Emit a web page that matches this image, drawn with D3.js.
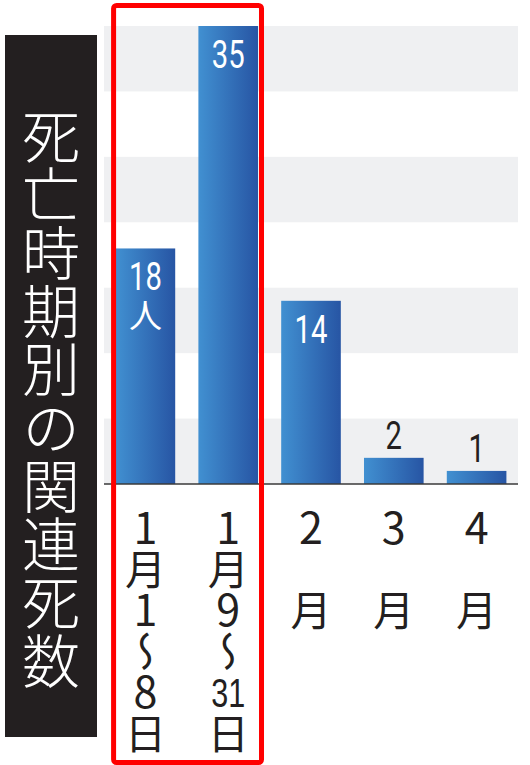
<!DOCTYPE html>
<html>
<head>
<meta charset="utf-8">
<script src="https://cdn.jsdelivr.net/npm/d3@7"></script>
<style>
  html, body { margin: 0; padding: 0; background: #fff; }
</style>
</head>
<body>
<div id="chart"></div>
<script>
// data
const categories = ["1月1〜8日", "1月9〜31日", "2月", "3月", "4月"];
const deaths = [18, 35, 14, 2, 1];
// vertical tick labels, one entry per row ("" = empty row)
const tickLabels = [
    ["1", "月", "1", "〜", "8", "日"],
    ["1", "月", "9", "〜", "31", "日"],
    ["2", "", "月"],
    ["3", "", "月"],
    ["4", "", "月"]
];
const valueUnits = ["人", "", "", "", ""];
const titleText = "死亡時期別の関連死数";
const bandTicks = [0, 5, 10, 15, 20, 25, 30, 35];
const highlighted = [0, 1]; // the two January bars framed in red

const width = 530, height = 765;
const cjk = "'Noto Sans CJK JP', 'Noto Sans', sans-serif";

const svg = d3.select("#chart")
    .append("svg")
    .attr("width", width)
    .attr("height", height);

const x = d3.scaleBand()
    .domain(categories)
    .range([104, 518])
    .paddingInner(0.28)
    .paddingOuter(0.14);

const y = d3.scaleLinear()
    .domain([0, 35])
    .range([484, 26]);

// bar gradient, light left edge to dark right edge
const grad = svg.append("defs").append("linearGradient")
    .attr("id", "barGrad")
    .attr("x1", "0%").attr("x2", "100%")
    .attr("y1", "0%").attr("y2", "0%");
grad.append("stop").attr("offset", "0%").attr("stop-color", "#4190d1");
grad.append("stop").attr("offset", "100%").attr("stop-color", "#2755a4");

// alternating grey bands every 5 people
svg.append("g")
    .selectAll("rect")
    .data(d3.pairs(bandTicks).filter((d, i) => i % 2 === 0))
    .enter().append("rect")
    .attr("x", 104)
    .attr("width", 518 - 104)
    .attr("y", d => y(d[1]))
    .attr("height", d => y(d[0]) - y(d[1]))
    .attr("fill", "#eff0f2");

// title box with vertical title
svg.append("rect")
    .attr("x", 5).attr("y", 35)
    .attr("width", 92).attr("height", 702)
    .attr("fill", "#231f20");

svg.append("text")
    .attr("x", 51)
    .attr("y", 107)
    .attr("fill", "#fff")
    .style("writing-mode", "vertical-rl")
    .style("text-orientation", "upright")
    .style("letter-spacing", "0.3px")
    .style("font-family", cjk)
    .style("font-weight", 300)
    .style("font-size", "58px")
    .text(titleText);

// bars
svg.append("g")
    .selectAll("rect")
    .data(deaths)
    .enter().append("rect")
    .attr("x", (d, i) => x(categories[i]))
    .attr("width", x.bandwidth())
    .attr("y", d => y(d))
    .attr("height", d => y(0) - y(d))
    .attr("fill", "url(#barGrad)");

// baseline
svg.append("line")
    .attr("x1", 104).attr("x2", 518)
    .attr("y1", y(0)).attr("y2", y(0))
    .attr("stroke", "#3a3a3a")
    .attr("stroke-width", 1.6);

// value labels: inside (white) for tall bars, above (dark) for short ones
const labels = svg.append("g");
deaths.forEach((v, i) => {
    const cx = x(categories[i]) + x.bandwidth() / 2;
    const inside = v >= 10;
    const by = inside ? y(v) + 42 : y(v) - 9;
    labels.append("text")
        .attr("transform", `translate(${cx},${by}) scale(0.75,1)`)
        .attr("text-anchor", "middle")
        .attr("fill", inside ? "#fff" : "#231f20")
        .style("font-family", "Roboto, 'Liberation Sans', sans-serif")
        .style("font-size", "39px")
        .text(v);
    if (valueUnits[i]) {
        labels.append("text")
            .attr("x", cx)
            .attr("y", by + 9)
            .attr("fill", "#fff")
            .style("writing-mode", "vertical-rl")
            .style("text-orientation", "upright")
            .style("font-family", cjk)
            .style("font-size", "33px")
            .text(valueUnits[i]);
    }
});

// category labels in vertical writing, one glyph per row
const rowTop = 508, rowPitch = 41;
const ticks = svg.append("g");
tickLabels.forEach((rows, i) => {
    const cx = x(categories[i]) + x.bandwidth() / 2;
    let col = null;
    rows.forEach((ch, r) => {
        const top = rowTop + r * rowPitch;
        if (!ch) return;
        if (ch.length > 1) {
            // two-digit day sits upright and squeezed into one row
            ticks.append("text")
                .attr("x", cx)
                .attr("y", top + rowPitch / 2 + 14.7)
                .attr("text-anchor", "middle")
                .attr("textLength", 34)
                .attr("lengthAdjust", "spacingAndGlyphs")
                .attr("fill", "#231f20")
                .style("font-family", "'Liberation Sans', Arial, sans-serif")
                .style("font-size", "41px")
                .text(ch);
            col = null;
            return;
        }
        if (!col) {
            col = ticks.append("text")
                .attr("fill", "#231f20")
                .style("writing-mode", "vertical-rl")
                .style("text-orientation", "upright")
                .style("font-family", cjk)
                .style("font-size", rowPitch + "px");
        }
        const digit = /[0-9]/.test(ch);
        col.append("tspan")
            .attr("x", cx)
            .attr("y", digit ? top - 1.5 : top)
            .style("font-size", digit ? "43px" : null)
            .text(ch);
    });
});

// red highlight frame around the January bars
const hx0 = x(categories[highlighted[0]]) - 2;
const hx1 = x(categories[highlighted[highlighted.length - 1]]) + x.bandwidth() + 3.5;
svg.append("rect")
    .attr("x", hx0).attr("y", 5.5)
    .attr("width", hx1 - hx0).attr("height", 757)
    .attr("rx", 3)
    .attr("fill", "none")
    .attr("stroke", "#ff0000")
    .attr("stroke-width", 5);
</script>
</body>
</html>
